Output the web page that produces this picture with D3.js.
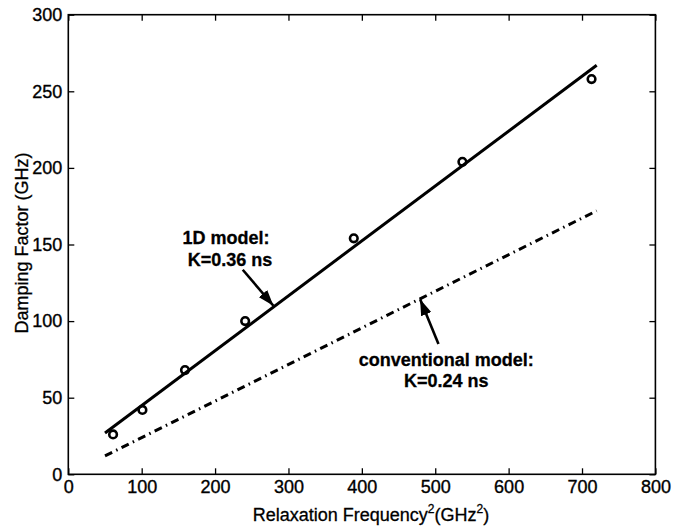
<!DOCTYPE html>
<html>
<head>
<meta charset="utf-8">
<script src="https://cdn.jsdelivr.net/npm/d3@7"></script>
<style>
  body { margin: 0; background: #fff; }
  svg { display: block; font-family: "Liberation Sans", Arial, sans-serif; }
</style>
</head>
<body>
<div id="chart"></div>
<script>
// measured points (relaxation freq^2 in GHz^2, damping factor in GHz)
const freqSq = [61, 101, 159, 241, 389, 537, 713];
const damping = [26, 42, 68, 100, 154, 204, 258];

// fitted lines: [x, y] end points
const fit1D = [[50, 27], [720, 267]];
const fitConv = [[50, 12], [720, 172]];

const xTicks = [0, 100, 200, 300, 400, 500, 600, 700, 800];
const yTicks = [0, 50, 100, 150, 200, 250, 300];

// arrows: tail -> tip, data coords
const arrows = [
  {from: [237.7, 133.5], to: [279.5, 110]},
  {from: [504.4, 85], to: [479.4, 114.2]}
];
const notes = [
  {x: 215, y: 150.3, text: "1D model:"},
  {x: 220.4, y: 136, text: "K=0.36 ns"},
  {x: 514.9, y: 70.7, text: "conventional model:"},
  {x: 514.9, y: 57, text: "K=0.24 ns"}
];

const W = 682, H = 527;
const margin = {top: 14.7, right: 26.6, bottom: 52.7, left: 68.3};
const width = W - margin.left - margin.right;
const height = H - margin.top - margin.bottom;

const svg = d3.select("#chart").append("svg")
    .attr("width", W)
    .attr("height", H);

const g = svg.append("g")
    .attr("transform", "translate(" + margin.left + "," + margin.top + ")");

const xScale = d3.scaleLinear().domain([0, 800]).range([0, width]);
const yScale = d3.scaleLinear().domain([0, 300]).range([height, 0]);

// axes, ticks pointing inward
const tickLen = 6;
const styleAxis = sel => {
    sel.select(".domain").remove();
    sel.selectAll("line").attr("stroke", "#000").attr("stroke-width", 1.3);
    sel.selectAll("text").attr("fill", "#000")
        .attr("stroke", "#000").attr("stroke-width", 0.35)
        .style("font-size", "18px");
};

g.append("g")
    .attr("transform", "translate(0," + height + ")")
    .call(d3.axisBottom(xScale).tickValues(xTicks).tickFormat(d3.format("d"))
        .tickSizeInner(-tickLen).tickSizeOuter(0).tickPadding(6))
    .call(styleAxis);

g.append("g")
    .call(d3.axisLeft(yScale).tickValues(yTicks).tickFormat(d3.format("d"))
        .tickSizeInner(-tickLen).tickSizeOuter(0).tickPadding(6))
    .call(styleAxis);

g.append("g")
    .call(d3.axisTop(xScale).tickValues(xTicks).tickFormat("")
        .tickSizeInner(-tickLen).tickSizeOuter(0))
    .call(styleAxis);

g.append("g")
    .attr("transform", "translate(" + width + ",0)")
    .call(d3.axisRight(yScale).tickValues(yTicks).tickFormat("")
        .tickSizeInner(-tickLen).tickSizeOuter(0))
    .call(styleAxis);

// frame
g.append("rect")
    .attr("width", width)
    .attr("height", height)
    .attr("fill", "none")
    .attr("stroke", "#000")
    .attr("stroke-width", 1.6);

const line = d3.line().x(d => xScale(d[0])).y(d => yScale(d[1]));

g.append("path")
    .datum(fit1D)
    .attr("d", line)
    .attr("fill", "none")
    .attr("stroke", "#000")
    .attr("stroke-width", 3);

g.append("path")
    .datum(fitConv)
    .attr("d", line)
    .attr("fill", "none")
    .attr("stroke", "#000")
    .attr("stroke-width", 3)
    .attr("stroke-dasharray", "8,4.5,1.5,4.5");

g.selectAll(".pt")
    .data(freqSq.map((f, i) => [f, damping[i]]))
    .join("circle")
    .attr("class", "pt")
    .attr("cx", d => xScale(d[0]))
    .attr("cy", d => yScale(d[1]))
    .attr("r", 3.8)
    .attr("fill", "none")
    .attr("stroke", "#000")
    .attr("stroke-width", 2.6);

// arrows
svg.append("defs").append("marker")
    .attr("id", "head")
    .attr("viewBox", "0 0 16 11")
    .attr("refX", 16).attr("refY", 5.5)
    .attr("markerWidth", 16).attr("markerHeight", 11)
    .attr("markerUnits", "userSpaceOnUse")
    .attr("orient", "auto")
    .append("path")
    .attr("d", "M0,0L16,5.5L0,11Z")
    .attr("fill", "#000");

g.selectAll(".arrow")
    .data(arrows)
    .join("line")
    .attr("class", "arrow")
    .attr("x1", d => xScale(d.from[0]))
    .attr("y1", d => yScale(d.from[1]))
    .attr("x2", d => xScale(d.to[0]))
    .attr("y2", d => yScale(d.to[1]))
    .attr("stroke", "#000")
    .attr("stroke-width", 2.6)
    .attr("marker-end", "url(#head)");

g.selectAll(".note")
    .data(notes)
    .join("text")
    .attr("class", "note")
    .attr("x", d => xScale(d.x))
    .attr("y", d => yScale(d.y))
    .attr("text-anchor", "middle")
    .attr("stroke", "#000")
    .attr("stroke-width", 0.3)
    .style("font-size", "18px")
    .style("font-weight", "bold")
    .text(d => d.text);

// axis titles
const xt = svg.append("text")
    .attr("x", 371)
    .attr("y", 521)
    .attr("text-anchor", "middle")
    .attr("stroke", "#000")
    .attr("stroke-width", 0.3)
    .style("font-size", "18px");
xt.append("tspan").text("Relaxation Frequency");
xt.append("tspan").attr("dy", -8).style("font-size", "12px").text("2");
xt.append("tspan").attr("dy", 8).text("(GHz");
xt.append("tspan").attr("dy", -8).style("font-size", "12px").text("2");
xt.append("tspan").attr("dy", 8).text(")");

svg.append("text")
    .attr("transform", "translate(27.5," + 243 + ") rotate(-90)")
    .attr("text-anchor", "middle")
    .attr("stroke", "#000")
    .attr("stroke-width", 0.3)
    .style("font-size", "18px")
    .text("Damping Factor (GHz)");
</script>
</body>
</html>
